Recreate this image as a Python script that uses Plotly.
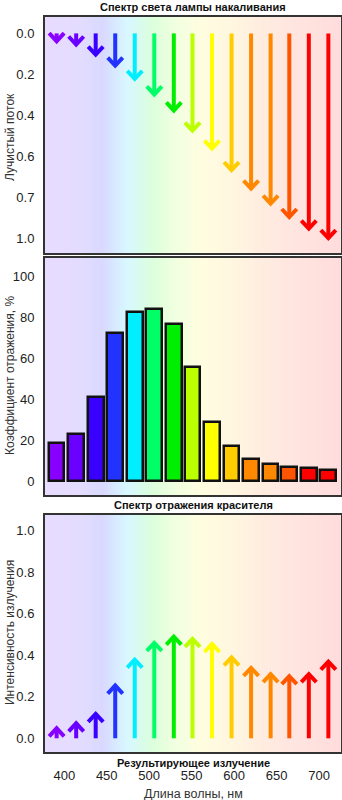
import plotly.graph_objects as go
import numpy as np

# ---- data ----
wavelengths = [391, 414, 437, 460, 483, 506, 529, 551, 574, 597, 620, 643, 665, 688, 711]
lamp_flux = [0.049, 0.065, 0.114, 0.168, 0.233, 0.309, 0.387, 0.485, 0.573, 0.678,
             0.768, 0.842, 0.907, 0.964, 1.01]
reflectance = [18.7, 22.9, 40.8, 72.0, 82.6, 83.7, 76.6, 55.8, 28.6, 17.1, 10.9, 8.1, 6.7, 6.3, 5.5]
result_intensity = [0.059, 0.083, 0.128, 0.265, 0.39, 0.47, 0.50, 0.49, 0.465, 0.40,
                    0.35, 0.32, 0.31, 0.32, 0.38]
colors = ["#8800ff", "#6a00ff", "#3a00ff", "#2233ff", "#00eeff", "#00ff66", "#00ee00",
          "#bbff00", "#ffff00", "#ffcc00", "#ff8800", "#ff8800", "#ff5500", "#ff0000", "#ff0000"]

x_ticks = [400, 450, 500, 550, 600, 650, 700]
top_ticks = [0, 0.2, 0.4, 0.6, 0.8, 1.0]
top_tick_text = ["0.0", "0.2", "0.4", "0.6", "0.7", "1.0"]
mid_ticks = [0, 20, 40, 60, 80, 100]
bot_ticks = [0, 0.2, 0.4, 0.6, 0.8, 1.0]
bot_tick_text = ["0.0", "0.2", "0.4", "0.6", "0.8", "1.0"]

# ---- layout geometry (pixels) ----
W, H = 342, 800
X0, X1 = 45, 341
XR = [377.3, 725.9]
panels = {  # top px, bottom px
    1: (17, 253),
    2: (258, 495),
    3: (515, 752),
}
YR = {1: [1.072, -0.080], 2: [-6.8, 108.8], 3: [-0.066, 1.076]}

px_per_nm = (X1 - X0) / (XR[1] - XR[0])


def px_per_unit(k):
    t, b = panels[k]
    return (b - t) / abs(YR[k][1] - YR[k][0])


# pastel spectrum background
bg_stops = [
    (377, "#e8dcff"), (420, "#e3dcff"), (445, "#d9d8ff"), (462, "#d8ecff"),
    (475, "#d8f8ff"), (492, "#d9fcea"), (505, "#dcffdc"), (530, "#f0ffe0"),
    (560, "#fffde0"), (600, "#fff6e0"), (630, "#ffede0"), (670, "#ffe5e0"),
    (726, "#ffdcdc"),
]
lo, hi = bg_stops[0][0], bg_stops[-1][0]
bg_scale = [[(w - lo) / (hi - lo), c] for w, c in bg_stops]
edges = np.arange(lo, hi + 1, 1.0)
centers = (edges[:-1] + edges[1:]) / 2

fig = go.Figure()

for k in (1, 2, 3):
    ya = YR[k]
    fig.add_trace(go.Heatmap(
        x=edges, y=[min(ya) - 1, max(ya) + 1], z=[centers, centers],
        colorscale=bg_scale, zmin=lo, zmax=hi, showscale=False, hoverinfo="skip",
        xaxis="x" if k == 1 else f"x{k}", yaxis="y" if k == 1 else f"y{k}",
    ))


def add_arrow(k, x, v, color, direction):
    """Stem from 0 to v with a chevron head whose tip sits at v."""
    hw = 7.5 / px_per_nm
    hh = 8.0 / px_per_unit(k)
    lw = 4
    # pull the tip back so the mitred stroke ends at the value
    miter = 2.2 / px_per_unit(k)
    tip = v - direction * miter
    back = tip - direction * hh
    xs = [x, x, None, x - hw, x, x + hw]
    ys = [0, tip, None, back, tip, back]
    fig.add_trace(go.Scatter(
        x=xs, y=ys, mode="lines", line=dict(color=color, width=lw),
        hoverinfo="skip", showlegend=False,
        xaxis="x" if k == 1 else f"x{k}", yaxis="y" if k == 1 else f"y{k}",
    ))


for wl, v, c in zip(wavelengths, lamp_flux, colors):
    add_arrow(1, wl, v, c, direction=+1)

fig.add_trace(go.Bar(
    x=wavelengths, y=reflectance, width=18.5,
    marker=dict(color=colors, line=dict(color="#111111", width=2.5)),
    hoverinfo="skip", showlegend=False, xaxis="x2", yaxis="y2",
))

for wl, v, c in zip(wavelengths, result_intensity, colors):
    add_arrow(3, wl, v, c, direction=+1)

grid = dict(showgrid=True, gridcolor="#222222", gridwidth=1, griddash="2px,2px",
            zeroline=False, showline=True, mirror=True, linecolor="#333333",
            linewidth=2, ticks="")
tick_font = dict(family="Liberation Sans, Arial, sans-serif", size=13, color="#222222")

layout = dict(
    width=W, height=H, margin=dict(l=0, r=0, t=0, b=0),
    paper_bgcolor="white", plot_bgcolor="white", showlegend=False,
    bargap=0,
)
for k in (1, 2, 3):
    t, b = panels[k]
    xn = "xaxis" if k == 1 else f"xaxis{k}"
    yn = "yaxis" if k == 1 else f"yaxis{k}"
    layout[xn] = dict(grid, domain=[X0 / W, X1 / W], range=XR, tickvals=x_ticks,
                      showticklabels=(k == 3), tickfont=tick_font,
                      ticklabelstandoff=10,
                      anchor="y" if k == 1 else f"y{k}")
    layout[yn] = dict(grid, domain=[1 - b / H, 1 - t / H], range=YR[k],
                      tickfont=tick_font, ticklabelstandoff=6,
                      anchor="x" if k == 1 else f"x{k}")
layout["yaxis"].update(tickvals=top_ticks, ticktext=top_tick_text)
layout["yaxis2"].update(tickvals=mid_ticks)
layout["yaxis3"].update(tickvals=bot_ticks, ticktext=bot_tick_text)

fig.update_layout(**layout)

title_font = dict(family="Liberation Sans, Arial, sans-serif", size=11, color="#111111")
axis_font = dict(family="Liberation Sans, Arial, sans-serif", size=12, color="#333333")


def label(text, xpx, ypx, font, angle=0):
    fig.add_annotation(text=text, xref="paper", yref="paper", x=xpx / W, y=1 - ypx / H,
                       xanchor="center", yanchor="middle", showarrow=False,
                       font=font, textangle=angle)


label("<b>Спектр света лампы накаливания</b>", 193, 7, title_font)
label("<b>Спектр отражения красителя</b>", 193, 505, title_font)
label("<b>Результирующее излучение</b>", 193, 763, title_font)
label("Длина волны, нм", 193, 794, dict(axis_font, size=12.5))
label("Лучистый поток", 10, 137, axis_font, -90)
label("Коэффициент отражения, %", 10, 376, axis_font, -90)
label("Интенсивность излучения", 10, 633, axis_font, -90)

fig.write_html("out.html")
